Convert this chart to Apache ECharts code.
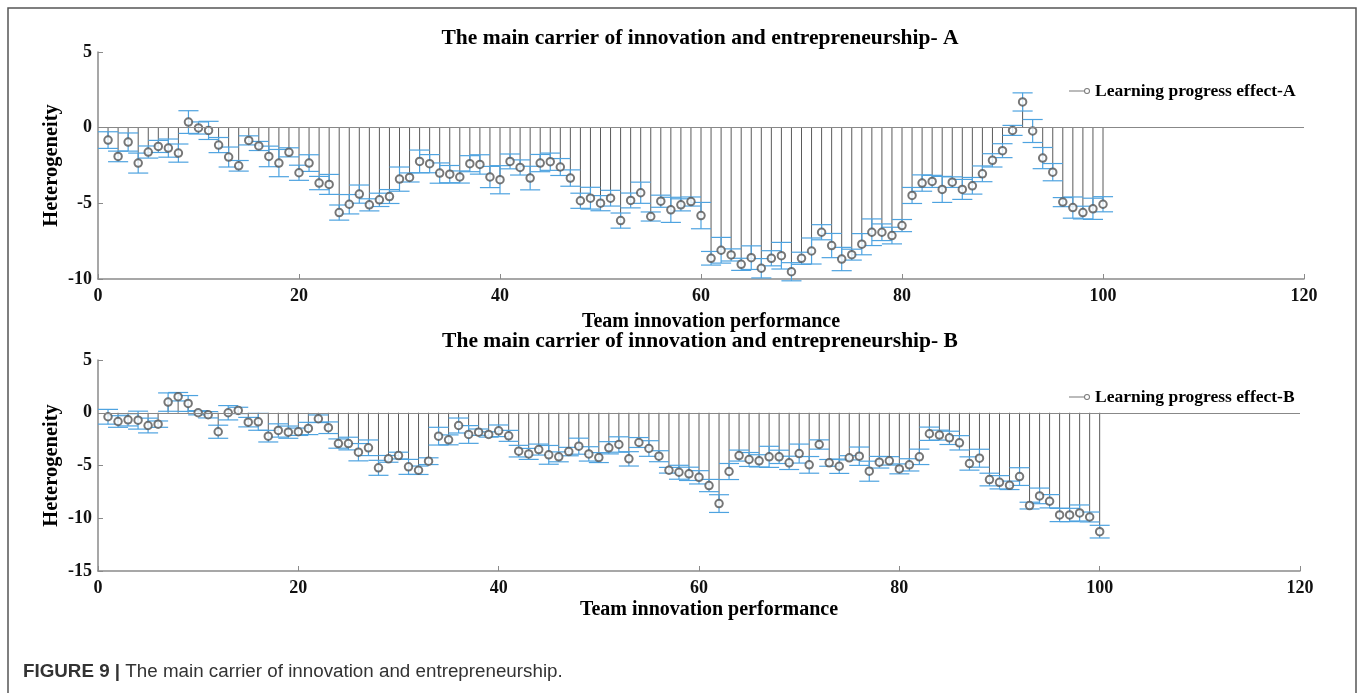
<!DOCTYPE html>
<html>
<head>
<meta charset="utf-8">
<title>The main carrier of innovation and entrepreneurship</title>
<script src="https://cdn.jsdelivr.net/npm/echarts@6/dist/echarts.min.js"></script>
<style>
  html, body { margin: 0; padding: 0; background: #fff; }
  #chart { width: 1360px; height: 693px; }
</style>
</head>
<body>
<div id="chart"></div>
<script>
// learning progress effect for teams 1..100 (panel A)
const effectA = [
  -0.82, -1.90, -0.95, -2.34, -1.61, -1.24, -1.35, -1.68, 0.37, -0.02,
  -0.18, -1.15, -1.94, -2.52, -0.84, -1.21, -1.90, -2.34, -1.63, -2.98,
  -2.34, -3.66, -3.75, -5.61, -5.06, -4.39, -5.10, -4.77, -4.55, -3.40,
  -3.29, -2.23, -2.38, -3.00, -3.07, -3.26, -2.38, -2.43, -3.26, -3.44,
  -2.23, -2.63, -3.33, -2.34, -2.25, -2.60, -3.33, -4.83, -4.66, -4.99,
  -4.66, -6.14, -4.81, -4.30, -5.87, -4.86, -5.43, -5.10, -4.88, -5.81,
  -8.63, -8.10, -8.41, -9.03, -8.59, -9.29, -8.63, -8.46, -9.52, -8.63,
  -8.15, -6.91, -7.79, -8.68, -8.39, -7.70, -6.91, -6.91, -7.13, -6.47,
  -4.48, -3.66, -3.55, -4.08, -3.60, -4.08, -3.84, -3.05, -2.16, -1.52,
  -0.18, 1.70, -0.22, -2.01, -2.94, -4.92, -5.28, -5.61, -5.36, -5.06
];
// half length of the error bars (panel A)
const errA = [
  0.55, 0.35, 0.60, 0.66, 0.40, 0.40, 0.60, 0.60, 0.75, 0.40,
  0.60, 0.50, 0.66, 0.35, 0.30, 0.30, 0.68, 0.90, 0.30, 0.50,
  0.55, 0.44, 0.66, 0.50, 0.64, 0.60, 0.40, 0.44, 0.46, 0.80,
  0.30, 0.75, 0.60, 0.67, 0.57, 0.40, 0.53, 0.64, 0.70, 0.93,
  0.49, 0.50, 0.78, 0.57, 0.57, 0.56, 0.54, 0.50, 0.72, 0.50,
  0.52, 0.50, 0.49, 0.70, 0.30, 0.40, 0.83, 0.40, 0.30, 0.87,
  0.45, 0.85, 0.40, 0.40, 0.78, 0.64, 0.50, 0.88, 0.60, 0.40,
  0.86, 0.50, 0.80, 0.77, 0.36, 0.70, 0.88, 0.55, 0.55, 0.40,
  0.53, 0.54, 0.40, 0.86, 0.35, 0.66, 0.55, 0.52, 0.44, 0.46,
  0.33, 0.60, 0.76, 0.70, 0.57, 0.30, 0.70, 0.42, 0.70, 0.50
];
// learning progress effect for teams 1..100 (panel B)
const effectB = [
  -0.38, -0.83, -0.67, -0.70, -1.21, -1.08, 1.01, 1.52, 0.88, 0.00,
  -0.19, -1.80, 0.00, 0.22, -0.89, -0.86, -2.22, -1.68, -1.84, -1.80,
  -1.49, -0.57, -1.42, -2.92, -2.92, -3.74, -3.32, -5.22, -4.37, -4.06,
  -5.13, -5.45, -4.59, -2.22, -2.57, -1.21, -2.06, -1.84, -2.06, -1.71,
  -2.19, -3.64, -3.90, -3.49, -3.99, -4.18, -3.68, -3.17, -3.90, -4.25,
  -3.32, -3.01, -4.37, -2.82, -3.39, -4.12, -5.45, -5.64, -5.79, -6.12,
  -6.90, -8.61, -5.57, -4.06, -4.43, -4.56, -4.18, -4.18, -4.75, -3.87,
  -4.94, -3.01, -4.75, -5.07, -4.27, -4.12, -5.54, -4.69, -4.56, -5.32,
  -4.94, -4.18, -1.99, -2.12, -2.38, -2.85, -4.81, -4.31, -6.33, -6.59,
  -6.88, -6.05, -8.80, -7.88, -8.39, -9.69, -9.69, -9.50, -9.88, -11.27
];
// half length of the error bars (panel B)
const errB = [
  0.70, 0.55, 0.58, 0.85, 0.70, 0.30, 0.87, 0.40, 0.75, 0.20,
  0.30, 0.62, 0.68, 0.30, 0.45, 0.80, 0.55, 0.63, 0.58, 0.35,
  0.58, 0.36, 0.55, 0.44, 0.60, 0.82, 0.74, 0.71, 0.32, 0.32,
  0.71, 0.40, 0.32, 0.84, 0.47, 0.71, 0.84, 0.30, 0.25, 0.55,
  0.52, 0.55, 0.52, 0.52, 0.89, 0.47, 0.40, 0.76, 0.68, 0.47,
  0.58, 0.73, 0.68, 0.47, 0.74, 0.52, 0.27, 0.66, 0.63, 0.63,
  0.58, 0.84, 0.76, 0.52, 0.66, 0.58, 1.00, 0.63, 0.63, 0.90,
  0.79, 0.44, 0.32, 0.68, 0.20, 0.87, 0.95, 0.55, 0.40, 0.47,
  0.58, 0.73, 0.63, 0.47, 0.63, 0.68, 0.63, 0.85, 0.60, 0.63,
  0.40, 0.84, 0.32, 0.74, 0.63, 0.63, 0.63, 0.76, 0.47, 0.60
];

const titleA = 'The main carrier of innovation and entrepreneurship- A';
const titleB = 'The main carrier of innovation and entrepreneurship- B';
const nameA = 'Learning progress effect-A';
const nameB = 'Learning progress effect-B';

const serif = "'Liberation Serif', 'Times New Roman', serif";
const sans = "'Liberation Sans', Arial, sans-serif";
const axisGrey = '#8a8a8a';
const stemColor = '#5a5a5a';
const errColor = '#4ea3e0';
// stem + circle legend icon
const legendIcon = 'path://M0,4.5H15V5.5H0Z M15,5A3,3 0 1 1 21,5A3,3 0 1 1 15,5Z M16,5A2,2 0 1 0 20,5A2,2 0 1 0 16,5Z';

const chart = echarts.init(document.getElementById('chart'));

function toPoints(vals) {
  return vals.map((v, i) => [i + 1, v]);
}
function toErr(vals, errs) {
  return vals.map((v, i) => [i + 1, v - errs[i], v + errs[i]]);
}

// vertical stem from the baseline to the value
function renderStem(params, api) {
  const p0 = api.coord([api.value(0), 0]);
  const p1 = api.coord([api.value(0), api.value(1)]);
  return {
    type: 'line',
    shape: { x1: p0[0], y1: p0[1], x2: p1[0], y2: p1[1] },
    style: { stroke: stemColor, lineWidth: 1 }
  };
}

// error bar with caps
function renderErr(params, api) {
  const x = api.value(0);
  const lo = api.coord([x, api.value(1)]);
  const hi = api.coord([x, api.value(2)]);
  const half = api.size([1, 0])[0];
  const style = { stroke: errColor, lineWidth: 1.2 };
  return {
    type: 'group',
    children: [
      { type: 'line', shape: { x1: lo[0], y1: lo[1], x2: hi[0], y2: hi[1] }, style },
      { type: 'line', shape: { x1: lo[0] - half, y1: lo[1], x2: lo[0] + half, y2: lo[1] }, style },
      { type: 'line', shape: { x1: hi[0] - half, y1: hi[1], x2: hi[0] + half, y2: hi[1] }, style }
    ]
  };
}

function xAxisCfg(idx, gap) {
  return {
    type: 'value', gridIndex: idx, min: 0, max: 120, interval: 20,
    name: 'Team innovation performance', nameLocation: 'middle', nameGap: gap,
    nameMoveOverlap: false,
    nameTextStyle: { fontFamily: serif, fontWeight: 'bold', fontSize: 20, color: '#000', padding: [0, 0, 0, 20] },
    axisLine: { onZero: false, lineStyle: { color: axisGrey, width: 1.5 } },
    axisTick: { inside: true, length: 5, lineStyle: { color: axisGrey } },
    axisLabel: { fontFamily: serif, fontWeight: 'bold', fontSize: 18, color: '#111', margin: 8 },
    splitLine: { show: false }
  };
}
function yAxisCfg(idx, min) {
  return {
    type: 'value', gridIndex: idx, min: min, max: 5, interval: 5,
    name: 'Heterogeneity', nameLocation: 'middle', nameGap: 36,
    nameMoveOverlap: false,
    nameTextStyle: { fontFamily: serif, fontWeight: 'bold', fontSize: 20.5, color: '#000' },
    axisLine: { show: true, lineStyle: { color: axisGrey, width: 1.5 } },
    axisTick: { inside: true, length: 5, lineStyle: { color: axisGrey } },
    axisLabel: { fontFamily: serif, fontWeight: 'bold', fontSize: 18, color: '#111', margin: 6 },
    splitLine: { show: false }
  };
}

function panelSeries(idx, name, vals, errs) {
  return [
    {
      type: 'custom', xAxisIndex: idx, yAxisIndex: idx,
      renderItem: renderStem, data: toPoints(vals), encode: { x: 0, y: 1 }, z: 2,
      markLine: {
        silent: true, symbol: 'none', label: { show: false },
        lineStyle: { color: '#888', type: 'solid', width: 1.2 },
        data: [{ yAxis: 0 }]
      }
    },
    {
      type: 'custom', xAxisIndex: idx, yAxisIndex: idx,
      renderItem: renderErr, data: toErr(vals, errs), encode: { x: 0, y: [1, 2] }, z: 3
    },
    {
      name: name, type: 'scatter', xAxisIndex: idx, yAxisIndex: idx,
      data: toPoints(vals), symbol: 'emptyCircle', symbolSize: 7.5,
      itemStyle: { color: '#555', borderWidth: 0.9 }, z: 4
    }
  ];
}

const legendText = { fontFamily: serif, fontWeight: 'bold', fontSize: 17.5, color: '#000' };
const titleText = { fontFamily: serif, fontWeight: 'bold', fontSize: 21.5, color: '#000' };

chart.setOption({
  backgroundColor: '#fff',
  animation: false,
  title: [
    { text: titleA, left: 700, top: 27, textAlign: 'center', padding: 0, textStyle: titleText },
    { text: titleB, left: 700, top: 330, textAlign: 'center', padding: 0, textStyle: titleText }
  ],
  legend: [
    { data: [{ name: nameA, icon: legendIcon }], left: 1064, top: 77, itemWidth: 21, itemHeight: 6,
      itemGap: 8, textStyle: legendText, selectedMode: false },
    { data: [{ name: nameB, icon: legendIcon }], left: 1064, top: 383, itemWidth: 21, itemHeight: 6,
      itemGap: 8, textStyle: legendText, selectedMode: false }
  ],
  grid: [
    { left: 98, top: 52, width: 1206, height: 227 },
    { left: 98, top: 360, width: 1202, height: 211 }
  ],
  xAxis: [xAxisCfg(0, 33), xAxisCfg(1, 29)],
  yAxis: [yAxisCfg(0, -10), yAxisCfg(1, -15)],
  series: [].concat(
    panelSeries(0, nameA, effectA, errA),
    panelSeries(1, nameB, effectB, errB)
  ),
  graphic: [
    { type: 'rect', shape: { x: 8, y: 8, width: 1348, height: 720 },
      style: { fill: 'none', stroke: '#555', lineWidth: 1.5 }, silent: true },
    { type: 'text', left: 23, top: 662,
      style: {
        text: '{b|FIGURE 9 |} The main carrier of innovation and entrepreneurship.',
        fontFamily: sans, fontSize: 18.8, fill: '#333',
        rich: { b: { fontFamily: sans, fontWeight: 'bold', fontSize: 18.8, fill: '#333' } }
      } }
  ]
});
</script>
</body>
</html>
